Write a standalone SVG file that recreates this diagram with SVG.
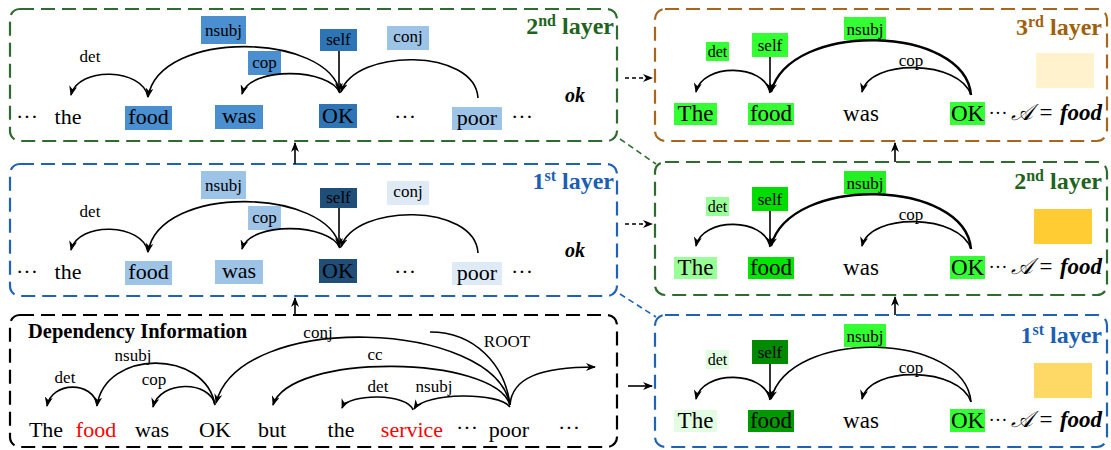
<svg xmlns="http://www.w3.org/2000/svg" width="1111" height="450" viewBox="0 0 1111 450" font-family="'Liberation Serif', 'Times New Roman', serif">
<defs>
<marker id="ah" viewBox="0 0 10 8" refX="9" refY="4" markerWidth="10" markerHeight="8" markerUnits="userSpaceOnUse" orient="auto">
<path d="M0,0 L10,4 L0,8 L3,4 z" fill="#000"/>
</marker>
<style>
text{font-family:'Liberation Serif','Times New Roman',serif;fill:#000}
.w{font-size:22px;text-anchor:middle}
.wr{font-size:23px;text-anchor:middle}
.d{font-size:19px;text-anchor:middle}
.l{font-size:17px;text-anchor:middle}
.lr{font-size:16px;text-anchor:middle}
.t{font-size:24px;font-weight:bold;text-anchor:end}
.bi{font-weight:bold;font-style:italic}
.box{fill:none;stroke-width:2.2;stroke-dasharray:14 7}
.g{stroke:#2e6b2e}.b{stroke:#1f63b5}.br{stroke:#a8661c}.k{stroke:#000}
.tg{fill:#1e6420}.tb{fill:#1a5fb4}.tbr{fill:#a0600a}
.a{fill:none;stroke:#000;stroke-width:1.6}
.ak{fill:none;stroke:#000;stroke-width:2.4}
</style>
</defs>
<rect width="1111" height="450" fill="#fff"/>

<g id="left-layer2">
<rect class="box g" x="10" y="9" width="607" height="132" rx="10"/>
<rect x="201" y="16" width="45" height="28" fill="#4a8fd0"/><text class="l" x="223.5" y="36">nsubj</text>
<rect x="248" y="51" width="33" height="24" fill="#4a8fd0"/><text class="l" x="264.5" y="68">cop</text>
<text class="l" x="90" y="62">det</text>
<rect x="320" y="29" width="37" height="22" fill="#2e75b6"/><text class="l" x="338.5" y="45">self</text>
<rect x="387" y="26" width="42" height="24" fill="#9dc3e6"/><text class="l" x="408" y="42">conj</text>
<text class="w" x="27" y="124">···</text>
<text class="w" x="68" y="124">the</text>
<rect x="125" y="106" width="47" height="24" fill="#4a8fd0"/><text class="w" x="148.5" y="124">food</text>
<rect x="215" y="105" width="48" height="24" fill="#4a8fd0"/><text class="w" x="239" y="123">was</text>
<rect x="319" y="104" width="38" height="24" fill="#2e75b6"/><text class="w" x="338" y="123">OK</text>
<text class="w" x="405" y="124">···</text>
<rect x="452" y="107" width="50" height="23" fill="#9dc3e6"/><text class="w" x="477" y="125">poor</text>
<text class="w" x="522" y="124">···</text>
<text class="bi" x="575" y="102" font-size="20" text-anchor="middle">ok</text>
<text class="t tg" x="614" y="34">2<tspan font-size="16" dy="-8">nd</tspan><tspan dy="8"> layer</tspan></text>
</g>

<g id="left-layer1">
<rect class="box b" x="10" y="164" width="607" height="132" rx="10"/>
<rect x="201" y="171" width="45" height="28" fill="#9dc3e6"/><text class="l" x="223.5" y="191">nsubj</text>
<rect x="248" y="206" width="33" height="24" fill="#9dc3e6"/><text class="l" x="264.5" y="223">cop</text>
<text class="l" x="90" y="217">det</text>
<rect x="320" y="188" width="37" height="20" fill="#1f4e79"/><text class="l" x="338.5" y="203">self</text>
<rect x="387" y="181" width="42" height="24" fill="#deebf7"/><text class="l" x="408" y="197">conj</text>
<text class="w" x="27" y="279">···</text>
<text class="w" x="68" y="279">the</text>
<rect x="125" y="261" width="47" height="24" fill="#9dc3e6"/><text class="w" x="148.5" y="279">food</text>
<rect x="215" y="260" width="48" height="24" fill="#9dc3e6"/><text class="w" x="239" y="278">was</text>
<rect x="319" y="259" width="38" height="24" fill="#1f4e79"/><text class="w" x="338" y="278">OK</text>
<text class="w" x="405" y="279">···</text>
<rect x="452" y="262" width="50" height="23" fill="#deebf7"/><text class="w" x="477" y="280">poor</text>
<text class="w" x="522" y="279">···</text>
<text class="bi" x="575" y="257" font-size="20" text-anchor="middle">ok</text>
<text class="t tb" x="614" y="189">1<tspan font-size="16" dy="-8">st</tspan><tspan dy="8"> layer</tspan></text>
</g>

<g id="dependency">
<rect class="box k" x="10" y="315" width="607" height="132" rx="10"/>
<text x="28" y="338" font-size="20.5" font-weight="bold">Dependency Information</text>
<text class="l" x="65" y="383">det</text>
<text class="l" x="133" y="361">nsubj</text>
<text class="l" x="154" y="385">cop</text>
<text class="l" x="318" y="338">conj</text>
<text class="l" x="375" y="360">cc</text>
<text class="l" x="507" y="347">ROOT</text>
<text class="l" x="378" y="392">det</text>
<text class="l" x="434" y="392">nsubj</text>
<text class="w" x="46" y="437">The</text>
<text class="w" x="96" y="437" style="fill:#ff0000">food</text>
<text class="w" x="152" y="437">was</text>
<text class="w" x="215" y="437">OK</text>
<text class="w" x="272" y="437">but</text>
<text class="w" x="341" y="437">the</text>
<text class="w" x="412" y="437" style="fill:#ff0000">service</text>
<text class="w" x="467" y="435">···</text>
<text class="w" x="509" y="437">poor</text>
<text class="w" x="569" y="435">···</text>
</g>

<g id="right-layer3">
<rect class="box br" x="655" y="9" width="452" height="132" rx="10"/>
<rect x="706" y="42" width="23" height="19" fill="#33ff33"/><text class="lr" x="717.5" y="57">det</text>
<rect x="752" y="33" width="36" height="24" fill="#33ff33"/><text class="l" x="770" y="51">self</text>
<rect x="844" y="17" width="42" height="23" fill="#33ff33"/><text class="l" x="865" y="35">nsubj</text>
<text class="l" x="911" y="66">cop</text>
<rect x="674" y="103" width="43" height="22" fill="#33ff33"/><text class="wr" x="695.5" y="121">The</text>
<rect x="748" y="103" width="46" height="22" fill="#33ff33"/><text class="wr" x="771" y="121">food</text>
<text class="wr" x="861" y="121">was</text>
<rect x="950" y="102" width="35" height="23" fill="#33ff33"/><text class="wr" x="967.5" y="121">OK</text>
<text class="d" x="998" y="119">···</text>
<text class="wr" x="1022" y="120" font-style="italic">𝒜</text>
<text class="wr" x="1046" y="120">=</text>
<text class="wr bi" x="1081" y="120">food</text>
<rect x="1036" y="53" width="58" height="35" fill="#fff2cc"/>
<text class="t tbr" x="1102" y="35">3<tspan font-size="16" dy="-8">rd</tspan><tspan dy="8"> layer</tspan></text>
</g>

<g id="right-layer2">
<rect class="box g" x="655" y="162" width="452" height="133" rx="10"/>
<rect x="706" y="197" width="23" height="19" fill="#99ff99"/><text class="lr" x="717.5" y="212">det</text>
<rect x="752" y="187" width="36" height="24" fill="#00dd00"/><text class="l" x="770" y="205">self</text>
<rect x="844" y="171" width="42" height="23" fill="#22f022"/><text class="l" x="865" y="189">nsubj</text>
<text class="l" x="911" y="220">cop</text>
<rect x="674" y="257" width="43" height="22" fill="#99ff99"/><text class="wr" x="695.5" y="275">The</text>
<rect x="748" y="257" width="46" height="22" fill="#00e600"/><text class="wr" x="771" y="275">food</text>
<text class="wr" x="861" y="275">was</text>
<rect x="950" y="256" width="35" height="23" fill="#33ff33"/><text class="wr" x="967.5" y="275">OK</text>
<text class="d" x="998" y="273">···</text>
<text class="wr" x="1022" y="274" font-style="italic">𝒜</text>
<text class="wr" x="1046" y="274">=</text>
<text class="wr bi" x="1081" y="274">food</text>
<rect x="1034" y="209" width="58" height="35" fill="#ffcc33"/>
<text class="t tg" x="1102" y="189">2<tspan font-size="16" dy="-8">nd</tspan><tspan dy="8"> layer</tspan></text>
</g>

<g id="right-layer1">
<rect class="box b" x="655" y="315" width="452" height="132" rx="10"/>
<rect x="706" y="350" width="23" height="19" fill="#e2fde2"/><text class="lr" x="717.5" y="365">det</text>
<rect x="752" y="340" width="36" height="24" fill="#008a00"/><text class="l" x="770" y="358">self</text>
<rect x="844" y="324" width="42" height="23" fill="#33ff33"/><text class="l" x="865" y="342">nsubj</text>
<text class="l" x="911" y="373">cop</text>
<rect x="674" y="410" width="43" height="22" fill="#e2fde2"/><text class="wr" x="695.5" y="428">The</text>
<rect x="748" y="410" width="46" height="22" fill="#009900"/><text class="wr" x="771" y="428">food</text>
<text class="wr" x="861" y="428">was</text>
<rect x="950" y="409" width="35" height="23" fill="#33ff33"/><text class="wr" x="967.5" y="428">OK</text>
<text class="d" x="998" y="426">···</text>
<text class="wr" x="1022" y="427" font-style="italic">𝒜</text>
<text class="wr" x="1046" y="427">=</text>
<text class="wr bi" x="1081" y="427">food</text>
<rect x="1034" y="363" width="58" height="35" fill="#ffd966"/>
<text class="t tb" x="1102" y="343">1<tspan font-size="16" dy="-8">st</tspan><tspan dy="8"> layer</tspan></text>
</g>

<g id="connectors">
<path class="a" d="M148,97 C143,68 78,66 71,95" marker-end="url(#ah)"/>
<path class="a" d="M340,93 C330,33 160,28 148,97" marker-end="url(#ah)"/>
<path class="a" d="M340,93 C330,68 250,66 242,94" marker-end="url(#ah)"/>
<path class="a" d="M339,51 L339,92" marker-end="url(#ah)"/>
<path class="a" d="M478,98 C475,48 355,48 341,92" marker-end="url(#ah)"/>
<path class="a" d="M148,252 C143,223 78,221 71,250" marker-end="url(#ah)"/>
<path class="a" d="M340,248 C330,188 160,183 148,252" marker-end="url(#ah)"/>
<path class="a" d="M340,248 C330,223 250,221 242,249" marker-end="url(#ah)"/>
<path class="a" d="M339,208 L339,247" marker-end="url(#ah)"/>
<path class="a" d="M478,253 C475,203 355,203 341,247" marker-end="url(#ah)"/>
<path class="a" d="M97,405 C93,381 52,381 47,406" marker-end="url(#ah)"/>
<path class="a" d="M215,405 C205,349 105,349 97,406" marker-end="url(#ah)"/>
<path class="a" d="M215,405 C210,380 160,380 153,407" marker-end="url(#ah)"/>
<path class="a" d="M510,405 C495,320 240,310 216,403" marker-end="url(#ah)"/>
<path class="a" d="M510,405 C495,355 290,352 273,405" marker-end="url(#ah)"/>
<path class="a" d="M413,410 C408,393 348,393 342,408" marker-end="url(#ah)"/>
<path class="a" d="M510,407 C500,392 425,392 414,409" marker-end="url(#ah)"/>
<path class="a" d="M430,332 C475,332 505,365 510,405"/>
<path class="a" d="M510,405 C512,378 540,367 595,367" marker-end="url(#ah)"/>
<path class="a" d="M770,93 C765,63 702,63 696,92" marker-end="url(#ah)"/>
<path class="a" d="M770,57 L770,92" marker-end="url(#ah)"/>
<path class="ak" d="M971,95 C965,25 790,20 771,92" marker-end="url(#ah)"/>
<path class="a" d="M971,95 C960,60 870,58 862,92" marker-end="url(#ah)"/>
<path class="a" d="M770,247 C765,217 702,217 696,246" marker-end="url(#ah)"/>
<path class="a" d="M770,211 L770,246" marker-end="url(#ah)"/>
<path class="ak" d="M971,249 C965,179 790,174 771,246" marker-end="url(#ah)"/>
<path class="a" d="M971,249 C960,214 870,212 862,246" marker-end="url(#ah)"/>
<path class="a" d="M770,400 C765,370 702,370 696,399" marker-end="url(#ah)"/>
<path class="a" d="M770,364 L770,399" marker-end="url(#ah)"/>
<path class="a" d="M971,402 C965,332 790,327 771,399" marker-end="url(#ah)"/>
<path class="a" d="M971,402 C960,367 870,365 862,399" marker-end="url(#ah)"/>
<path class="a" d="M295,315 L295,298" marker-end="url(#ah)"/>
<path class="a" d="M295,164 L295,143" marker-end="url(#ah)"/>
<path class="a" d="M895,315 L895,297" marker-end="url(#ah)"/>
<path class="a" d="M895,162 L895,143" marker-end="url(#ah)"/>
<path class="a" d="M625,78 L652,78" stroke-dasharray="4 3" marker-end="url(#ah)"/>
<path class="a" d="M625,224 L652,224" stroke-dasharray="4 3" marker-end="url(#ah)"/>
<path class="a" d="M628,386 L652,386" marker-end="url(#ah)"/>
<path d="M620,139 L656,164" fill="none" stroke="#2e6b2e" stroke-width="1.6" stroke-dasharray="6 4"/>
<path d="M620,294 L656,317" fill="none" stroke="#1f63b5" stroke-width="1.6" stroke-dasharray="6 4"/>
</g>
</svg>
